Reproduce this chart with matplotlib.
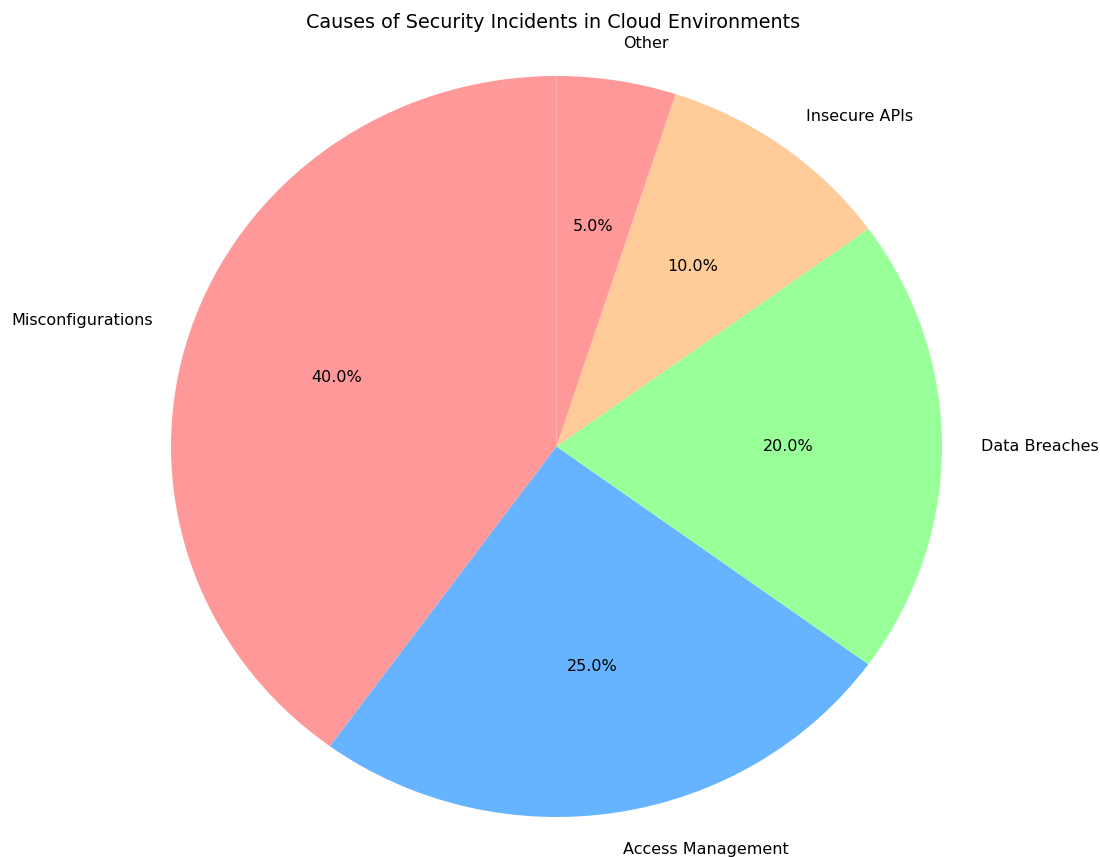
import matplotlib
matplotlib.use("Agg")
import matplotlib.pyplot as plt

categories = ["Misconfigurations", "Access Management", "Data Breaches", "Insecure APIs", "Other"]
values = [40, 25, 20, 10, 5]
colors = ["#ff9999", "#66b3ff", "#99ff99", "#ffcc99"]
title = "Causes of Security Incidents in Cloud Environments"

W, H = 1100, 857
fig = plt.figure(figsize=(W / 100, H / 100), dpi=100)
ax = fig.add_axes([0, 0, 1, 1])
ax.pie(values, labels=categories, colors=colors, autopct="%1.1f%%",
       startangle=90, textprops={"fontsize": 11.5})

cx, cy, rx, ry = 556.5, 446.5, 385.5, 370.5
ax.set_aspect("auto")
ax.set_xlim(-cx / rx, (W - cx) / rx)
ax.set_ylim(-(H - cy) / ry, cy / ry)
ax.axis("off")

fig.text(553 / W, 1 - 22 / H, title, ha="center", va="center", fontsize=13.8)
fig.savefig("out.png", dpi=100)
